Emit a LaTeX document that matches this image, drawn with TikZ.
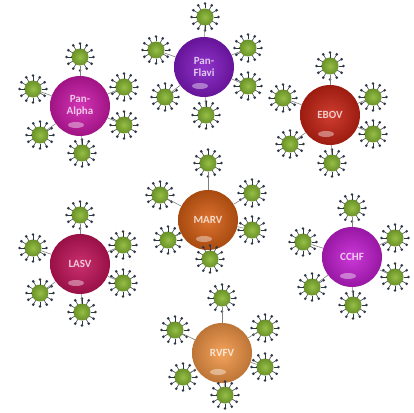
\documentclass[tikz,border=0pt]{standalone}
\usepackage{fontspec}
\setsansfont{Carlito}
\usepackage{tikz}

\definecolor{palpha}{RGB}{205,25,170}
\definecolor{pflavi}{RGB}{130,25,195}
\definecolor{ebov}{RGB}{200,35,20}
\definecolor{marv}{RGB}{215,95,20}
\definecolor{lasv}{RGB}{195,20,90}
\definecolor{cchf}{RGB}{195,30,210}
\definecolor{rvfv}{RGB}{242,150,70}
\definecolor{vgreen}{RGB}{150,190,70}
\definecolor{vdark}{RGB}{105,145,40}
\definecolor{knobc}{RGB}{45,55,70}

\tikzset{
  hub/.style={circle, minimum size=60, inner sep=0pt, draw=none,
    inner color=#1!88!white, outer color=#1!78!black,
    text=white, text opacity=0.75, font=\sffamily\bfseries\fontsize{11}{12}\selectfont,
    align=center},
  virus/.style={circle, minimum size=17, inner sep=0pt,
    inner color=vgreen, outer color=vdark},
  spike/.style={knobc, line width=0.55pt},
  knob/.style={circle, fill=knobc, inner sep=0pt, minimum size=2.9},
  stalk/.style={gray, line width=0.6pt},
  glint/.style={fill=white, opacity=0.4}
}

% one virion: body plus a ring of spikes
\newcommand{\virion}[2]{%
  \node[virus] (#1) at (#2) {};
  \foreach \a in {0,30,...,330}
    \draw[spike] (#1.center) ++(\a:8.5) -- ++(\a:5) node[knob] {};
}

\begin{document}
\begin{tikzpicture}[x=1pt, y=-1pt]
\useasboundingbox (0,0) rectangle (414,412);

% the seven antigen spheres
\foreach \h/\c/\t/\p in {alpha/palpha/{Pan-\\Alpha}/{80,106},
                         flavi/pflavi/{Pan-\\Flavi}/{204,67},
                         ebov/ebov/{EBOV}/{330,115},
                         marv/marv/{MARV}/{208,220},
                         lasv/lasv/{LASV}/{80,264},
                         cchf/cchf/{CCHF}/{352,257},
                         rvfv/rvfv/{RVFV}/{222,353}}
{
  \node[hub=\c] (\h) at (\p) {\t};
  \fill[glint] (\h.center) ++(-4,19) ellipse (8 and 3);
}

% six virions around each sphere
\foreach \p [count=\i] in {{80,57},{124,87},{124,125},{82,153},{40,135},{33,89}}
  { \virion{alpha-\i}{\p} \draw[stalk] (alpha) -- (alpha-\i); }
\foreach \p [count=\i] in {{205,17},{248,48},{248,86},{206,115},{165,97},{156,50}}
  { \virion{flavi-\i}{\p} \draw[stalk] (flavi) -- (flavi-\i); }
\foreach \p [count=\i] in {{330,66},{373,97},{373,134},{332,163},{290,144},{283,98}}
  { \virion{ebov-\i}{\p} \draw[stalk] (ebov) -- (ebov-\i); }
\foreach \p [count=\i] in {{208,163},{252,193},{252,230},{210,259},{168,240},{160,195}}
  { \virion{marv-\i}{\p} \draw[stalk] (marv) -- (marv-\i); }
\foreach \p [count=\i] in {{80,215},{123,245},{123,283},{82,312},{40,293},{33,248}}
  { \virion{lasv-\i}{\p} \draw[stalk] (lasv) -- (lasv-\i); }
\foreach \p [count=\i] in {{352,208},{395,238},{395,277},{353,305},{312,287},{303,242}}
  { \virion{cchf-\i}{\p} \draw[stalk] (cchf) -- (cchf-\i); }
\foreach \p [count=\i] in {{222,298},{265,328},{265,367},{225,395},{183,377},{175,330}}
  { \virion{rvfv-\i}{\p} \draw[stalk] (rvfv) -- (rvfv-\i); }

\end{tikzpicture}
\end{document}
